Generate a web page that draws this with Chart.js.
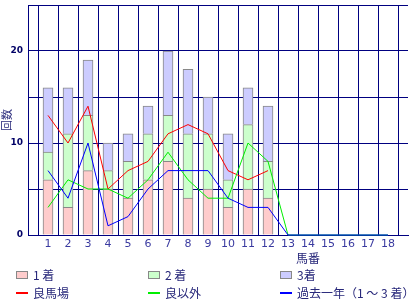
<!DOCTYPE html>
<html>
<head>
<meta charset="utf-8">
<script src="https://cdn.jsdelivr.net/npm/chart.js@4.4.1/dist/chart.umd.min.js"></script>
<style>
  body { margin: 0; background: #fff; }
  canvas { display: block; }
</style>
</head>
<body>
<canvas id="horseChart" width="420" height="300"></canvas>
<script>
// 馬番 (empty slots at both ends so the grid closes the plot)
const horseNumbers = ['', '1', '2', '3', '4', '5', '6', '7', '8', '9', '10', '11', '12', '13', '14', '15', '16', '17', '18', ''];

// stacked bars: finishes by horse number
const firstPlace  = [null, 6, 3, 7, 5, 4, 6, 8, 4, 5, 3, 5, 4, 0, 0, 0, 0, 0, 0, null];
const secondPlace = [null, 3, 8, 6, 2, 4, 5, 5, 7, 6, 3, 7, 4, 0, 0, 0, 0, 0, 0, null];
const thirdPlace  = [null, 7, 5, 6, 3, 3, 3, 7, 7, 4, 5, 4, 6, 0, 0, 0, 0, 0, 0, null];

// lines
const goodTrack  = [null, 13, 10, 14, 5, 7, 8, 11, 12, 11, 7, 6, 7, null, null, null, null, null, null, null];
const otherTrack = [null, 3, 6, 5, 5, 4, 6, 9, 6, 4, 4, 10, 8, 0, 0, 0, 0, 0, 0, null];
const lastYear   = [null, 7, 4, 10, 1, 2, 5, 7, 7, 7, 4, 3, 3, 0, 0, 0, 0, 0, 0, null];

const yTicks = [0, 10, 20];

const NAVY = '#000080';
const TEXT = '#27277a';
const JP_FONT = '"Noto Sans CJK JP", "DejaVu Sans", sans-serif';

// draws the 3-column legend and the x axis title below the chart
const legendPlugin = {
    id: 'gridLegend',
    afterDraw(chart) {
        const ctx = chart.ctx;
        const cols = [16, 148, 280];
        const rows = [275, 293];
        const ds = chart.data.datasets;

        ctx.save();
        ctx.font = '12px ' + JP_FONT;
        ctx.fillStyle = TEXT;
        ctx.textBaseline = 'middle';
        ctx.textAlign = 'center';
        ctx.fillText('馬番', 308, 258);
        ctx.textAlign = 'left';

        ds.forEach((d, i) => {
            const x = cols[i % 3];
            const y = rows[Math.floor(i / 3)];
            if (d.type === 'bar') {
                ctx.fillStyle = d.backgroundColor;
                ctx.fillRect(x, y - 4, 12, 8);
                ctx.strokeStyle = d.borderColor;
                ctx.lineWidth = 1;
                ctx.strokeRect(x + 0.5, y - 3.5, 11, 7);
            } else {
                ctx.fillStyle = d.borderColor;
                ctx.fillRect(x, y - 1, 12, 2);
            }
            ctx.fillStyle = TEXT;
            ctx.fillText(d.label, x + 17, y);
        });
        ctx.restore();
    }
};

const ctx = document.getElementById('horseChart').getContext('2d');
new Chart(ctx, {
    data: {
        labels: horseNumbers,
        datasets: [
            { type: 'bar', label: '1 着', data: firstPlace, backgroundColor: '#ffcccc', borderColor: '#888888', borderWidth: 1, barThickness: 10, order: 3 },
            { type: 'bar', label: '2 着', data: secondPlace, backgroundColor: '#ccffcc', borderColor: '#888888', borderWidth: 1, barThickness: 10, order: 3 },
            { type: 'bar', label: '3着', data: thirdPlace, backgroundColor: '#ccccff', borderColor: '#888888', borderWidth: 1, barThickness: 10, order: 3 },
            { type: 'line', label: '良馬場', data: goodTrack, yAxisID: 'y2', borderColor: '#ff0000', borderWidth: 1, pointRadius: 0, tension: 0, clip: false, order: 2 },
            { type: 'line', label: '良以外', data: otherTrack, yAxisID: 'y2', borderColor: '#00ee00', borderWidth: 1, pointRadius: 0, tension: 0, clip: false, order: 1 },
            { type: 'line', label: '過去一年（1 ～ 3 着）', data: lastYear, yAxisID: 'y2', borderColor: '#0000ff', borderWidth: 1, pointRadius: 0, tension: 0, clip: false, order: 0 }
        ]
    },
    options: {
        responsive: false,
        animation: false,
        layout: { padding: { left: 0, top: 5, right: 12, bottom: 45 } },
        plugins: {
            legend: { display: false },
            tooltip: { enabled: false }
        },
        scales: {
            x: {
                stacked: true,
                offset: false,
                grid: { color: NAVY, lineWidth: 1, drawTicks: false },
                border: { color: NAVY },
                ticks: {
                    autoSkip: false,
                    maxRotation: 0,
                    padding: 3,
                    color: '#3a3aa0',
                    font: { family: 'DejaVu Sans', size: 11 }
                },
                afterFit: s => {
                    s.height = 20;
                    s.paddingLeft = 0;
                    s.paddingRight = 0;
                }
            },
            y: {
                stacked: true,
                min: 0,
                max: 25,
                grid: { color: NAVY, lineWidth: 1, drawTicks: false },
                border: { color: NAVY },
                title: {
                    display: true,
                    text: '回数',
                    color: TEXT,
                    padding: 0,
                    font: { family: JP_FONT, size: 11 }
                },
                ticks: {
                    stepSize: 5,
                    padding: 5,
                    color: '#000066',
                    font: { family: 'DejaVu Sans', size: 9, weight: 'bold' },
                    callback: v => yTicks.includes(v) ? v : ''
                },
                afterFit: s => {
                    s.width = 28;
                    s.paddingTop = 0;
                    s.paddingBottom = 0;
                }
            },
            y2: {
                display: false,
                min: 0,
                max: 25
            }
        }
    },
    plugins: [legendPlugin]
});
</script>
</body>
</html>
